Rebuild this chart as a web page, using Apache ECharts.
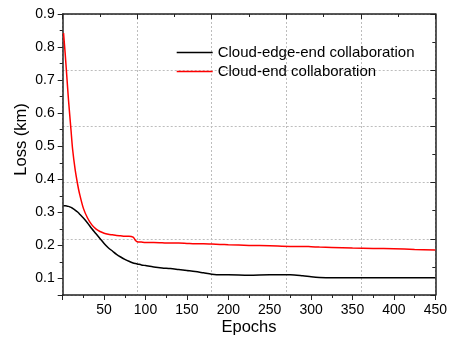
<!DOCTYPE html>
<html>
<head>
<meta charset="utf-8">
<script src="https://cdn.jsdelivr.net/npm/echarts@6/dist/echarts.min.js"></script>
<style>html,body{margin:0;padding:0;background:#fff}#c{width:450px;height:341px}</style>
</head>
<body>
<div id="c"></div>
<script>
const epochs = [1, 3, 5, 7, 10, 12, 15, 18, 20, 25, 30, 35, 40, 45, 50, 55, 60, 65, 70, 75, 80, 85, 88, 90, 95, 100, 110, 120, 130, 140, 150, 160, 170, 180, 190, 200, 225, 250, 275, 290, 300, 310, 325, 350, 375, 400, 425, 450];
const cloudEdgeEnd = [0.320, 0.3198, 0.319, 0.318, 0.315, 0.312, 0.307, 0.301, 0.296, 0.283, 0.268, 0.251, 0.236, 0.221, 0.206, 0.193, 0.183, 0.173, 0.165, 0.158, 0.152, 0.147, 0.145, 0.144, 0.141, 0.139, 0.135, 0.132, 0.130, 0.127, 0.124, 0.121, 0.117, 0.113, 0.111, 0.111, 0.110, 0.111, 0.111, 0.108, 0.105, 0.103, 0.102, 0.102, 0.102, 0.102, 0.102, 0.102];
const cloudEnd = [0.842, 0.780, 0.710, 0.640, 0.550, 0.490, 0.430, 0.385, 0.360, 0.312, 0.283, 0.263, 0.250, 0.242, 0.237, 0.234, 0.232, 0.230, 0.229, 0.228, 0.228, 0.225, 0.215, 0.211, 0.210, 0.209, 0.209, 0.208, 0.207, 0.207, 0.206, 0.205, 0.205, 0.204, 0.203, 0.202, 0.200, 0.199, 0.197, 0.197, 0.196, 0.195, 0.194, 0.192, 0.191, 0.190, 0.188, 0.186];
const seriesNames = ['Cloud-edge-end collaboration', 'Cloud-end collaboration'];
const yTicks = [0.1, 0.2, 0.3, 0.4, 0.5, 0.6, 0.7, 0.8, 0.9];

const font = 'Liberation Sans, Arial, sans-serif';
const axisLineStyle = {color: '#222', width: 1.5};
const gridLine = {show: true, lineStyle: {color: '#bdbdbd', type: [2, 2], width: 1}};

const chart = echarts.init(document.getElementById('c'), null, {renderer: 'canvas'});
chart.setOption({
  animation: false,
  backgroundColor: '#fff',
  textStyle: {fontFamily: font},
  grid: {left: 62.7, right: 8.3, top: 14, bottom: 45.3, containLabel: false},
  legend: {
    orient: 'vertical', left: 176.7, top: 44, padding: 0, itemWidth: 36, itemHeight: 1.6, itemGap: 2,
    icon: 'rect',
    data: seriesNames,
    textStyle: {fontSize: 15, color: '#000', fontFamily: font, lineHeight: 17}
  },
  xAxis: [
    {
      type: 'value', position: 'bottom', min: 0, max: 450, interval: 50,
      name: 'Epochs', nameLocation: 'middle', nameGap: 24, nameMoveOverlap: false,
      nameTextStyle: {fontSize: 16.5, color: '#000', fontFamily: font},
      axisLine: {show: true, onZero: false, lineStyle: axisLineStyle},
      axisTick: {show: true, inside: false, length: 5, lineStyle: {color: '#222', width: 1}},
      minorTick: {show: true, splitNumber: 2, length: 3, lineStyle: {color: '#222', width: 1}},
      axisLabel: {showMinLabel: false, fontSize: 14, color: '#000', margin: 8, fontFamily: font},
      splitLine: {show: false}
    },
    {
      type: 'value', position: 'top', min: 0, max: 5, interval: 1,
      axisLine: {show: true, onZero: false, lineStyle: axisLineStyle},
      axisTick: {show: true, inside: true, length: 5, lineStyle: {color: '#222', width: 1}},
      minorTick: {show: true, splitNumber: 2, length: 3, lineStyle: {color: '#222', width: 1}},
      axisLabel: {show: false},
      splitLine: gridLine
    }
  ],
  yAxis: [
    {
      type: 'value', position: 'left', min: 0.05, max: 0.9, splitNumber: 9, minInterval: 0.1, maxInterval: 0.1,
      name: 'Loss (km)', nameLocation: 'middle', nameGap: 33, nameMoveOverlap: false,
      nameTextStyle: {fontSize: 16.5, color: '#000', fontFamily: font, padding: [0, 0, 0, 30]},
      axisLine: {show: true, onZero: false, lineStyle: axisLineStyle},
      axisTick: {show: true, inside: false, length: 5, lineStyle: {color: '#222', width: 1}},
      minorTick: {show: true, splitNumber: 2, length: 3, lineStyle: {color: '#222', width: 1}},
      axisLabel: {
        showMinLabel: false, fontSize: 14, color: '#000', margin: 8, fontFamily: font,
        formatter: v => { const t = yTicks.find(k => Math.abs(k - v) < 1e-6); return t === undefined ? '' : t.toFixed(1); }
      },
      splitLine: {show: false}
    },
    {
      type: 'value', position: 'right', min: 0, max: 5, interval: 1,
      axisLine: {show: true, onZero: false, lineStyle: axisLineStyle},
      axisTick: {show: true, inside: true, length: 5, lineStyle: {color: '#222', width: 1}},
      minorTick: {show: true, splitNumber: 2, length: 3, lineStyle: {color: '#222', width: 1}},
      axisLabel: {show: false},
      splitLine: gridLine
    }
  ],
  series: [
    {
      name: seriesNames[0], type: 'line', xAxisIndex: 0, yAxisIndex: 0,
      data: epochs.map((e, i) => [e, cloudEdgeEnd[i]]),
      showSymbol: false, smooth: 0.3,
      lineStyle: {color: '#000', width: 1.5}, itemStyle: {color: '#000'}
    },
    {
      name: seriesNames[1], type: 'line', xAxisIndex: 0, yAxisIndex: 0,
      data: epochs.map((e, i) => [e, cloudEnd[i]]),
      showSymbol: false, smooth: 0.3,
      lineStyle: {color: '#ff0000', width: 1.5}, itemStyle: {color: '#ff0000'}
    }
  ]
});
</script>
</body>
</html>
